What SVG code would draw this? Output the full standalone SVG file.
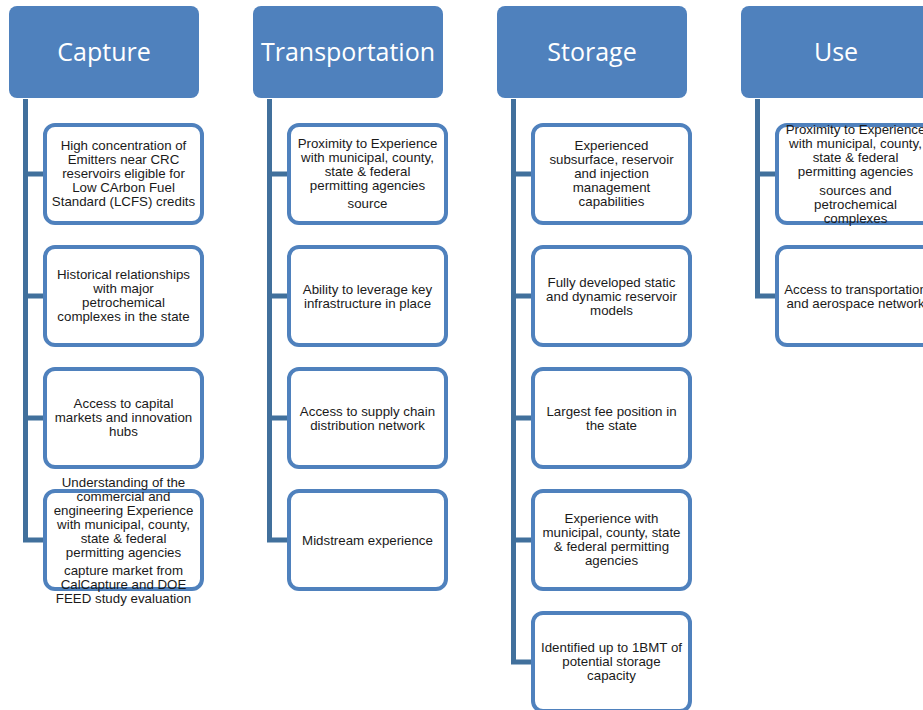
<svg xmlns="http://www.w3.org/2000/svg" width="923" height="710" viewBox="0 0 923 710">
<style>
.hdr{fill:#4f81bd;}
.htxt{font-family:"Open Sans","Liberation Sans",sans-serif;font-size:25px;fill:#ffffff;text-anchor:middle;}
.box{fill:#ffffff;stroke:#4f81bd;stroke-width:4;}
.t{font-family:"Liberation Sans",Arial,sans-serif;font-size:13.3px;fill:#1a1a1a;text-anchor:middle;}
.ln{stroke:#41709c;stroke-width:5;fill:none;}
</style>
<rect width="923" height="710" fill="#ffffff"/>
<g id="connectors">
<path class="ln" d="M25.5 99 V540 M25.5 174 H44 M25.5 296 H44 M25.5 418 H44 M23 540 H44"/>
<path class="ln" d="M269.5 99 V540 M269.5 174 H288 M269.5 296 H288 M269.5 418 H288 M267 540 H288"/>
<path class="ln" d="M513.5 99 V662 M513.5 174 H532 M513.5 296 H532 M513.5 418 H532 M513.5 540 H532 M511 662 H532"/>
<path class="ln" d="M757.5 99 V296 M757.5 174 H776 M755 296 H776"/>
</g>
<g id="capture">
<rect class="hdr" x="9" y="6" width="190" height="92" rx="8"/>
<text class="htxt" x="104" y="61">Capture</text>
</g>
<g id="transportation">
<rect class="hdr" x="253" y="6" width="190" height="92" rx="8"/>
<text class="htxt" x="348" y="61">Transportation</text>
</g>
<g id="storage">
<rect class="hdr" x="497" y="6" width="190" height="92" rx="8"/>
<text class="htxt" x="592" y="61">Storage</text>
</g>
<g id="use">
<rect class="hdr" x="741" y="6" width="190" height="92" rx="8"/>
<text class="htxt" x="836" y="61">Use</text>
</g>
<g id="cap1">
<rect class="box" x="45" y="125" width="157" height="98" rx="10"/>
<text class="t" x="123.5" y="150">High concentration of</text>
<text class="t" x="123.5" y="164">Emitters near CRC</text>
<text class="t" x="123.5" y="178">reservoirs eligible for</text>
<text class="t" x="123.5" y="192">Low CArbon Fuel</text>
<text class="t" x="123.5" y="206">Standard (LCFS) credits</text>
</g>
<g id="cap2">
<rect class="box" x="45" y="247" width="157" height="98" rx="10"/>
<text class="t" x="123.5" y="279">Historical relationships</text>
<text class="t" x="123.5" y="293">with major</text>
<text class="t" x="123.5" y="307">petrochemical</text>
<text class="t" x="123.5" y="321">complexes in the state</text>
</g>
<g id="cap3">
<rect class="box" x="45" y="369" width="157" height="98" rx="10"/>
<text class="t" x="123.5" y="408">Access to capital</text>
<text class="t" x="123.5" y="422">markets and innovation</text>
<text class="t" x="123.5" y="436">hubs</text>
</g>
<g id="cap4">
<rect class="box" x="45" y="491" width="157" height="98" rx="10"/>
<text class="t" x="123.5" y="487">Understanding of the</text>
<text class="t" x="123.5" y="501">commercial and</text>
<text class="t" x="123.5" y="515">engineering Experience</text>
<text class="t" x="123.5" y="529">with municipal, county,</text>
<text class="t" x="123.5" y="543">state &amp; federal</text>
<text class="t" x="123.5" y="557">permitting agencies</text>
<text class="t" x="123.5" y="575">capture market from</text>
<text class="t" x="123.5" y="589">CalCapture and DOE</text>
<text class="t" x="123.5" y="603">FEED study evaluation</text>
</g>
<g id="tr1">
<rect class="box" x="289" y="125" width="157" height="98" rx="10"/>
<text class="t" x="367.5" y="148">Proximity to Experience</text>
<text class="t" x="367.5" y="162">with municipal, county,</text>
<text class="t" x="367.5" y="176">state &amp; federal</text>
<text class="t" x="367.5" y="190">permitting agencies</text>
<text class="t" x="367.5" y="208">source</text>
</g>
<g id="tr2">
<rect class="box" x="289" y="247" width="157" height="98" rx="10"/>
<text class="t" x="367.5" y="294">Ability to leverage key</text>
<text class="t" x="367.5" y="308">infrastructure in place</text>
</g>
<g id="tr3">
<rect class="box" x="289" y="369" width="157" height="98" rx="10"/>
<text class="t" x="367.5" y="416">Access to supply chain</text>
<text class="t" x="367.5" y="430">distribution network</text>
</g>
<g id="tr4">
<rect class="box" x="289" y="491" width="157" height="98" rx="10"/>
<text class="t" x="367.5" y="545">Midstream experience</text>
</g>
<g id="st1">
<rect class="box" x="533" y="125" width="157" height="98" rx="10"/>
<text class="t" x="611.5" y="150">Experienced</text>
<text class="t" x="611.5" y="164">subsurface, reservoir</text>
<text class="t" x="611.5" y="178">and injection</text>
<text class="t" x="611.5" y="192">management</text>
<text class="t" x="611.5" y="206">capabilities</text>
</g>
<g id="st2">
<rect class="box" x="533" y="247" width="157" height="98" rx="10"/>
<text class="t" x="611.5" y="287">Fully developed static</text>
<text class="t" x="611.5" y="301">and dynamic reservoir</text>
<text class="t" x="611.5" y="315">models</text>
</g>
<g id="st3">
<rect class="box" x="533" y="369" width="157" height="98" rx="10"/>
<text class="t" x="611.5" y="416">Largest fee position in</text>
<text class="t" x="611.5" y="430">the state</text>
</g>
<g id="st4">
<rect class="box" x="533" y="491" width="157" height="98" rx="10"/>
<text class="t" x="611.5" y="523">Experience with</text>
<text class="t" x="611.5" y="537">municipal, county, state</text>
<text class="t" x="611.5" y="551">&amp; federal permitting</text>
<text class="t" x="611.5" y="565">agencies</text>
</g>
<g id="st5">
<rect class="box" x="533" y="613" width="157" height="98" rx="10"/>
<text class="t" x="611.5" y="652">Identified up to 1BMT of</text>
<text class="t" x="611.5" y="666">potential storage</text>
<text class="t" x="611.5" y="680">capacity</text>
</g>
<g id="use1">
<rect class="box" x="777" y="125" width="157" height="98" rx="10"/>
<text class="t" x="855.5" y="134">Proximity to Experience</text>
<text class="t" x="855.5" y="148">with municipal, county,</text>
<text class="t" x="855.5" y="162">state &amp; federal</text>
<text class="t" x="855.5" y="176">permitting agencies</text>
<text class="t" x="855.5" y="195">sources and</text>
<text class="t" x="855.5" y="209">petrochemical</text>
<text class="t" x="855.5" y="223">complexes</text>
</g>
<g id="use2">
<rect class="box" x="777" y="247" width="157" height="98" rx="10"/>
<text class="t" x="855.5" y="294">Access to transportation</text>
<text class="t" x="855.5" y="308">and aerospace network</text>
</g>
</svg>
